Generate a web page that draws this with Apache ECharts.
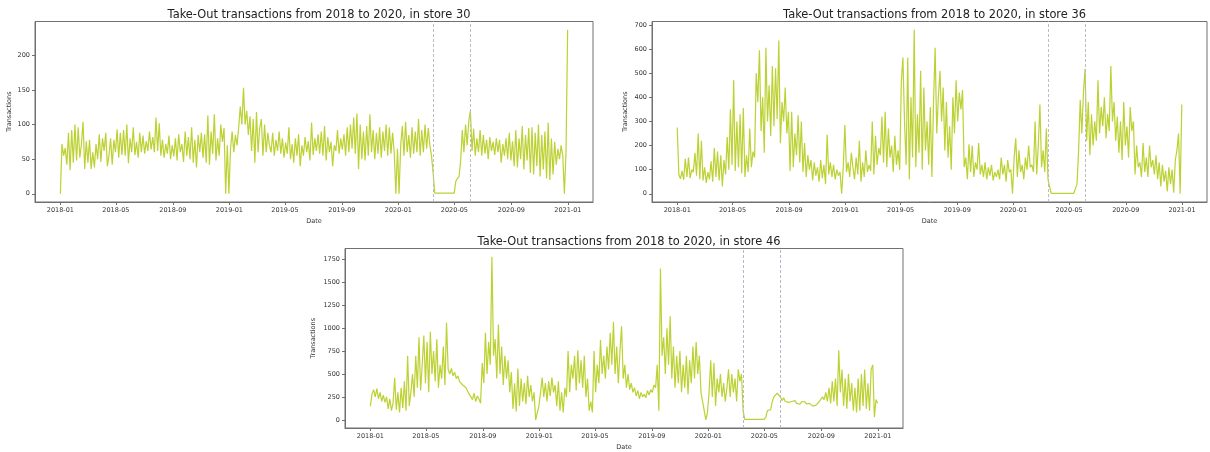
<!DOCTYPE html>
<html>
<head>
<meta charset="utf-8">
<script src="https://cdn.jsdelivr.net/npm/echarts@6/dist/echarts.min.js"></script>
<style>
  html, body { margin: 0; padding: 0; background: #ffffff; }
  #chart { width: 1210px; height: 452px; }
</style>
</head>
<body>
<div id="chart"></div>
<script>
// Take-out transactions, two readings per week from 2018-01-01 to 2020-12-31
const startDate = '2018-01-01';
const stepDays = 3.5;

const store30 = [
  0, 72, 55, 66, 42, 88, 34, 92, 45, 100,
  48, 96, 52, 72, 104, 36, 76, 45, 78, 36,
  60, 38, 72, 50, 86, 46, 80, 62, 88, 40,
  55, 80, 42, 78, 60, 93, 52, 88, 56, 92,
  55, 100, 44, 80, 60, 96, 56, 75, 52, 88,
  60, 84, 58, 76, 62, 90, 64, 82, 60, 110,
  62, 102, 55, 78, 52, 72, 58, 84, 50, 70,
  54, 80, 48, 86, 60, 72, 46, 90, 55, 82,
  50, 96, 45, 78, 38, 85, 60, 88, 52, 86,
  45, 113, 42, 90, 58, 115, 48, 80, 55, 100,
  75, 95, 0, 70, 0, 65, 90, 60, 85, 70,
  95, 126, 100, 153, 100, 120, 85, 112, 62, 108,
  45, 118, 60, 95, 108, 55, 100, 60, 88, 70,
  60, 88, 55, 78, 62, 90, 58, 80, 52, 74,
  58, 96, 50, 72, 45, 80, 55, 86, 40, 70,
  55, 82, 60, 76, 48, 103, 56, 80, 62, 86,
  58, 90, 55, 98, 48, 82, 60, 75, 40, 70,
  62, 92, 58, 80, 64, 86, 55, 96, 60, 100,
  65, 110, 58, 116, 36, 100, 50, 90, 48, 98,
  55, 115, 60, 92, 50, 88, 58, 96, 52, 90,
  62, 100, 55, 96, 58, 88, 60, 0, 65, 0,
  70, 98, 55, 104, 60, 85, 52, 96, 58, 90,
  60, 108, 55, 92, 60, 100, 65, 95, 70, 55,
  30, 1, 1, 1, 1, 1, 1, 1, 1, 1,
  1, 1, 1, 1, 18, 22, 25, 48, 92, 60,
  100, 70, 105, 120, 62, 94, 55, 80, 60, 92,
  55, 85, 58, 78, 50, 82, 62, 75, 56, 80,
  60, 78, 45, 72, 55, 80, 50, 88, 48, 76,
  40, 92, 38, 80, 50, 98, 35, 85, 48, 95,
  30, 96, 28, 88, 40, 100, 25, 85, 35, 90,
  22, 103, 20, 80, 28, 75, 42, 65, 50, 70,
  55, 0, 60, 237
];

const store36 = [
  275, 80, 62, 95, 58, 145, 70, 150, 65, 100,
  90, 170, 75, 250, 60, 220, 55, 110, 45, 90,
  60, 135, 50, 190, 70, 175, 55, 160, 30, 140,
  80, 235, 100, 350, 120, 470, 95, 300, 110, 330,
  85, 355, 70, 160, 90, 270, 110, 175, 150, 500,
  380, 595, 260, 400, 170, 605, 300, 450, 240, 530,
  280, 520, 310, 635, 210, 380, 300, 440, 250, 340,
  95, 340, 110, 250, 160, 325, 130, 300, 90, 210,
  70, 160, 100, 140, 55, 130, 75, 110, 50, 140,
  65, 120, 40, 245, 80, 130, 70, 120, 60, 100,
  75, 90, 0, 110, 285, 90, 130, 70, 170, 110,
  60, 150, 80, 220, 50, 130, 70, 180, 90, 120,
  95, 300, 80, 240, 120, 190, 160, 320, 130, 340,
  110, 270, 150, 200, 90, 240, 120, 180, 100, 460,
  565, 300, 120, 565, 60, 400, 150, 680, 110, 330,
  170, 510, 100, 440, 180, 300, 120, 360, 70, 380,
  605, 250, 400, 510, 300, 440, 180, 380, 150, 280,
  100, 400, 250, 470, 300, 420, 350, 430, 110, 150,
  60, 205, 90, 200, 70, 130, 100, 210, 80, 120,
  70, 130, 60, 110, 75, 120, 55, 90, 70, 100,
  60, 150, 80, 120, 50, 140, 90, 100, 0, 150,
  230, 70, 180, 90, 120, 60, 150, 100, 200, 110,
  120, 90, 300, 80, 200, 370, 110, 180, 90, 270,
  60, 30, 2, 2, 2, 2, 2, 2, 2, 2,
  2, 2, 2, 2, 2, 2, 2, 8, 40, 180,
  390, 250, 420, 518, 220, 380, 160, 330, 200, 300,
  220, 470, 250, 360, 280, 400, 230, 330, 260, 530,
  300, 380, 220, 320, 170, 300, 140, 380, 200, 280,
  150, 360, 260, 300, 80, 200, 110, 130, 70, 210,
  90, 150, 70, 200, 110, 140, 80, 160, 60, 130,
  30, 120, 50, 95, 10, 110, 40, 100, 5, 140,
  180, 250, 0, 370
];

const store46 = [
  150, 280, 330, 250, 340, 230, 300, 200, 270, 190,
  250, 120, 230, 100, 180, 460, 110, 300, 80, 350,
  130, 420, 100, 700, 150, 300, 500, 250, 700, 350,
  900, 320, 600, 920, 400, 850, 300, 960, 500, 750,
  420, 880, 350, 600, 450, 800, 380, 1060, 550, 500,
  560, 480, 520, 450, 480, 420, 440, 380, 400, 350,
  330, 280, 300, 220, 290, 200, 260, 230, 180, 620,
  400, 950, 500, 850, 600, 1780, 700, 880, 450, 1040,
  500, 800, 380, 700, 450, 650, 300, 520, 120, 400,
  90, 560, 150, 450, 200, 400, 170, 480, 250, 380,
  200, 300, 0, 80, 150, 300, 460, 250, 400, 200,
  420, 260, 460, 300, 380, 150, 420, 100, 300, 80,
  350, 250, 750, 300, 600, 450, 700, 320, 760, 400,
  650, 350, 700, 250, 450, 100, 200, 80, 750, 300,
  600, 400, 870, 500, 700, 450, 800, 550, 950, 600,
  1070, 500, 800, 400, 750, 1020, 450, 600, 350, 500,
  330, 400, 300, 350, 260, 320, 230, 300, 250, 280,
  240, 320, 270, 330, 300, 380, 350, 600, 100, 1650,
  700, 900, 500, 1000, 600, 1130, 450, 800, 350, 700,
  400, 750, 300, 600, 350, 700, 280, 650, 400, 800,
  450, 850, 500, 700, 300, 200, 100, 0, 80, 300,
  650, 250, 620, 150, 450, 300, 500, 250, 400, 200,
  350, 550, 250, 500, 300, 450, 200, 550, 420, 500,
  100, 5, 5, 5, 5, 5, 5, 5, 5, 5,
  5, 5, 5, 5, 30, 100, 120, 110, 200, 250,
  230, 290, 310, 250, 210, 240, 200, 220, 190, 210,
  200, 190, 210, 180, 200, 170, 195, 185, 200, 175,
  190, 180, 160, 150, 140, 160, 150, 200, 180, 250,
  220, 300, 200, 350, 180, 420, 200, 450, 150, 760,
  300, 550, 150, 450, 120, 500, 200, 400, 100, 350,
  80, 450, 100, 500, 150, 550, 120, 400, 100, 550,
  600, 30, 220, 180
];

const storeNames = ['30', '36', '46'];
const xTickLabels = ['2018-01', '2018-05', '2018-09', '2019-01', '2019-05', '2019-09',
                     '2020-01', '2020-05', '2020-09', '2021-01'];
const yTicks30 = [0, 50, 100, 150, 200];
const yTicks36 = [0, 100, 200, 300, 400, 500, 600, 700];
const yTicks46 = [0, 250, 500, 750, 1000, 1250, 1500, 1750];
// Start and end of the dine-in closure period
const closureDates = ['2020-03-17', '2020-06-05'];

// The x axis counts days since the start date
const DAY = 86400000;
const utc = s => Date.parse(s + 'T00:00:00Z');
const t0 = utc(startDate);
const dayOf = s => (utc(s) - t0) / DAY;
const xTickDays = xTickLabels.map(s => dayOf(s + '-01'));

function toPoints(vals) {
  return vals.map((v, i) => [i * stepDays, v]);
}

const panels = [
  { values: store30, yTicks: yTicks30, grid: { left: 35, top: 21.5, width: 558, height: 180.5 }, yGap: 22, dash: '#bdbdbd' },
  { values: store36, yTicks: yTicks36, grid: { left: 652, top: 21.5, width: 555, height: 180.5 }, yGap: 23, dash: '#bdbdbd' },
  { values: store46, yTicks: yTicks46, grid: { left: 345, top: 248.5, width: 558, height: 182 }, yGap: 28, dash: '#b6b9cc' }
];

const textColor = '#333333';
const spineColor = '#707070';
const font = 'DejaVu Sans';

const option = {
  animation: false,
  backgroundColor: '#ffffff',
  textStyle: { fontFamily: font },
  title: [], grid: [], xAxis: [], yAxis: [], series: []
};

panels.forEach((p, k) => {
  const pts = toPoints(p.values);
  const xFirst = pts[0][0], xLast = pts[pts.length - 1][0];
  const xPad = (xLast - xFirst) * 0.05;
  const vMin = Math.min(...p.values), vMax = Math.max(...p.values);
  const yPad = (vMax - vMin) * 0.05;

  option.grid.push(Object.assign({ show: true, borderColor: spineColor, borderWidth: 1, backgroundColor: 'transparent' }, p.grid));

  option.title.push({
    text: 'Take-Out transactions from 2018 to 2020, in store ' + storeNames[k],
    left: p.grid.left + p.grid.width / 2,
    top: p.grid.top - 17,
    textAlign: 'center',
    textStyle: { fontFamily: font, fontSize: 11.4, fontWeight: 'normal', color: '#222222' }
  });

  option.xAxis.push({
    type: 'value', gridIndex: k,
    min: xFirst - xPad, max: xLast + xPad,
    name: 'Date', nameLocation: 'middle', nameGap: 16,
    nameTextStyle: { fontFamily: font, fontSize: 6.5, color: textColor },
    axisLine: { show: true, onZero: false, lineStyle: { color: spineColor, width: 1 } },
    axisTick: { show: true, inside: false, length: 3, customValues: xTickDays, lineStyle: { color: spineColor } },
    axisLabel: {
      customValues: xTickDays, margin: 5, fontFamily: font, fontSize: 6.5, color: textColor, hideOverlap: false,
      formatter: v => xTickLabels[xTickDays.indexOf(v)] || ''
    },
    splitLine: { show: false }, minorTick: { show: false }
  });

  option.yAxis.push({
    type: 'value', gridIndex: k,
    min: vMin - yPad, max: vMax + yPad,
    name: 'Transactions', nameLocation: 'middle', nameGap: p.yGap, nameRotate: 90,
    nameTextStyle: { fontFamily: font, fontSize: 6.5, color: textColor },
    axisLine: { show: true, onZero: false, lineStyle: { color: spineColor, width: 1 } },
    axisTick: { show: true, inside: false, length: 3, customValues: p.yTicks, lineStyle: { color: spineColor } },
    axisLabel: { customValues: p.yTicks, margin: 5, fontFamily: font, fontSize: 6.5, color: textColor, formatter: v => String(v) },
    splitLine: { show: false }
  });

  option.series.push({
    type: 'line', xAxisIndex: k, yAxisIndex: k,
    data: pts, showSymbol: false, symbol: 'none', sampling: null,
    lineStyle: { color: '#bcd132', width: 1.2 },
    itemStyle: { color: '#bcd132' },
    silent: true,
    markLine: {
      silent: true, symbol: ['none', 'none'], label: { show: false },
      lineStyle: { color: p.dash, type: [3, 2], width: 1 },
      data: closureDates.map(d => ({ xAxis: dayOf(d) }))
    }
  });
});

const chart = echarts.init(document.getElementById('chart'), null, { renderer: 'canvas' });
chart.setOption(option);
</script>
</body>
</html>
